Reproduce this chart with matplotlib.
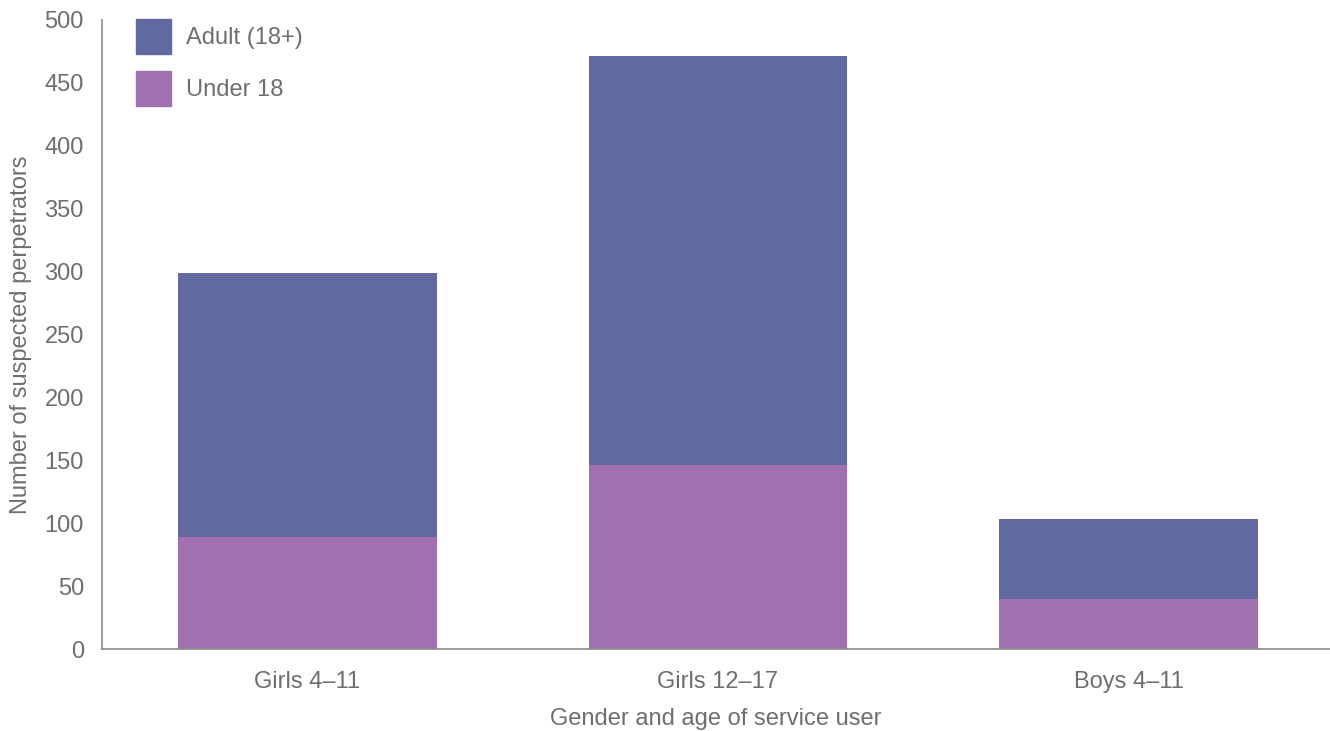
import numpy as np
import matplotlib.pyplot as plt
from matplotlib.patches import Patch

# Data
groups = ["Girls 4\u201311", "Girls 12\u201317", "Boys 4\u201311"]
under_18 = [89, 146, 40]
adult = [210, 325, 63]

ADULT_COLOR = "#616aa0"
UNDER_COLOR = "#a170ae"
TEXT_COLOR = "#6d6e71"
SPINE_COLOR = "#8a8a8a"


def main():
    plt.rcParams["font.family"] = ["Liberation Sans", "DejaVu Sans"]

    fig = plt.figure(figsize=(13.3, 7.31), dpi=100)
    ax = fig.add_axes([102 / 1330, 82 / 731, 1 - 102 / 1330, 629 / 731])

    x = np.arange(len(groups))
    width = 0.63
    ax.bar(x, under_18, width, color=UNDER_COLOR, label="Under 18")
    ax.bar(x, adult, width, bottom=under_18, color=ADULT_COLOR, label="Adult (18+)")

    ax.set_xlim(-0.5, 2.49)
    ax.set_ylim(0, 500)
    ax.set_yticks(np.arange(0, 501, 50))
    ax.set_xticks(x)
    ax.set_xticklabels(groups)

    ax.tick_params(axis="both", length=0, labelsize=17, labelcolor=TEXT_COLOR)
    ax.tick_params(axis="y", pad=13)
    ax.tick_params(axis="x", pad=16)

    for side in ["top", "right"]:
        ax.spines[side].set_visible(False)
    for side in ["left", "bottom"]:
        ax.spines[side].set_color(SPINE_COLOR)
        ax.spines[side].set_linewidth(1.2)

    ax.set_ylabel("Number of suspected perpetrators", fontsize=17,
                  color=TEXT_COLOR, labelpad=9)
    ax.set_xlabel("Gender and age of service user", fontsize=17,
                  color=TEXT_COLOR, labelpad=11)

    handles = [Patch(color=ADULT_COLOR, label="Adult (18+)"),
               Patch(color=UNDER_COLOR, label="Under 18")]
    leg = fig.legend(handles=handles, loc="upper left",
                     bbox_to_anchor=(136 / 1330, 1 - 19 / 731),
                     frameon=False, fontsize=17, borderpad=0,
                     borderaxespad=0, handlelength=1.48, handleheight=1.9,
                     handletextpad=0.64, labelspacing=0.72)
    for t in leg.get_texts():
        t.set_color(TEXT_COLOR)

    fig.savefig("out.png", dpi=100)


if __name__ == "__main__":
    main()
